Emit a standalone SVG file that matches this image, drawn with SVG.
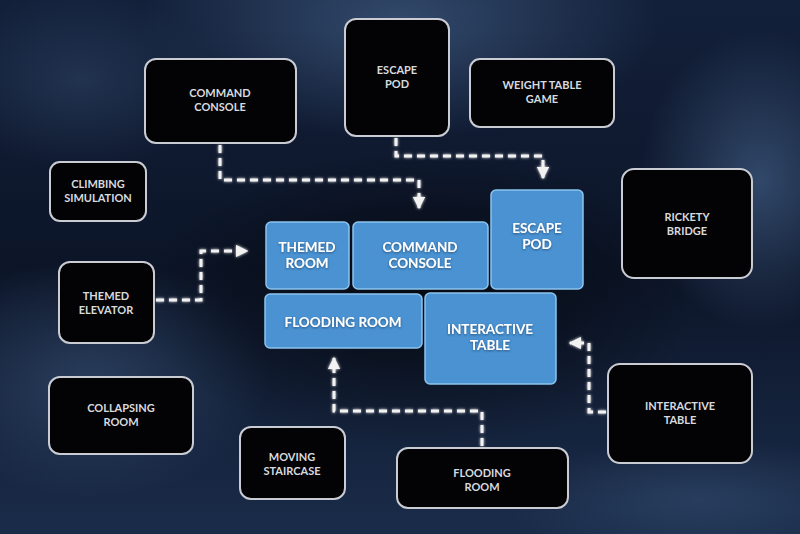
<svg xmlns="http://www.w3.org/2000/svg" width="800" height="534" viewBox="0 0 800 534">
<defs>
<linearGradient id="bg" x1="0" y1="0" x2="0" y2="1">
<stop offset="0" stop-color="#13203a"/>
<stop offset="0.5" stop-color="#0c1528"/>
<stop offset="1" stop-color="#1a2c4a"/>
</linearGradient>
<radialGradient id="g1" cx="0.5" cy="0.5" r="0.5">
<stop offset="0" stop-color="#3a5478" stop-opacity="0.8"/>
<stop offset="1" stop-color="#3a5478" stop-opacity="0"/>
</radialGradient>
<radialGradient id="g2" cx="0.5" cy="0.5" r="0.5">
<stop offset="0" stop-color="#000000" stop-opacity="0.6"/>
<stop offset="1" stop-color="#000000" stop-opacity="0"/>
</radialGradient>
<marker id="ah" viewBox="0 0 10 10" refX="9" refY="5" markerWidth="4.2" markerHeight="4.2" orient="auto" markerUnits="strokeWidth">
<path d="M0,0 L10,5 L0,10 Z" fill="#f2f2f2"/>
</marker>
<filter id="glow" x="-20%" y="-20%" width="140%" height="140%">
<feGaussianBlur stdDeviation="1.5" result="b"/>
<feMerge><feMergeNode in="b"/><feMergeNode in="SourceGraphic"/></feMerge>
</filter>
<filter id="ts" x="-10%" y="-30%" width="120%" height="160%">
<feDropShadow dx="0" dy="1" stdDeviation="1" flood-color="#1a3a60" flood-opacity="0.7"/>
</filter>
</defs>
<style>
.dark rect{fill:#030306;stroke:#c9ccd2;stroke-width:2}
.dark text{fill:#d8dade;font-family:Lato,"Open Sans",sans-serif;font-weight:700;font-size:11px;text-anchor:middle}
.blue rect{fill:#4a92d2;stroke:#8cc4ee;stroke-width:1.5}
.blue text{fill:#ffffff;font-family:Lato,"Open Sans",sans-serif;font-weight:700;font-size:13.5px;text-anchor:middle}
.con path{fill:none;stroke:#f2f2f2;stroke-width:3;stroke-dasharray:8 5}
</style>
<rect width="800" height="534" fill="url(#bg)"/>
<ellipse cx="400" cy="20" rx="260" ry="120" fill="url(#g1)"/>
<ellipse cx="760" cy="180" rx="120" ry="150" fill="url(#g1)"/>
<ellipse cx="90" cy="380" rx="180" ry="120" fill="url(#g1)" opacity="0.7"/>
<ellipse cx="700" cy="500" rx="200" ry="60" fill="url(#g1)" opacity="0.6"/>
<ellipse cx="80" cy="80" rx="140" ry="90" fill="url(#g1)" opacity="0.5"/>
<ellipse cx="420" cy="300" rx="280" ry="150" fill="url(#g2)"/>

<g class="con" filter="url(#glow)">
<path d="M220,145 V180 H419 V208" marker-end="url(#ah)"/>
<path d="M396,138 V156 H543 V178" marker-end="url(#ah)"/>
<path d="M156,300 H201 V251 H247" marker-end="url(#ah)"/>
<path d="M482,446 V411 H334 V358" marker-end="url(#ah)"/>
<path d="M606,412 H589 V343 H570" marker-end="url(#ah)"/>
</g>

<g id="n-command-console" class="dark"><rect x="145" y="59" width="151" height="84" rx="11"/><text x="220" y="97">COMMAND</text><text x="220" y="111">CONSOLE</text></g>
<g id="n-escape-pod" class="dark"><rect x="345" y="19" width="104" height="117" rx="11"/><text x="397" y="74">ESCAPE</text><text x="397" y="88">POD</text></g>
<g id="n-weight-table" class="dark"><rect x="470" y="59" width="144" height="68" rx="10"/><text x="542" y="89">WEIGHT TABLE</text><text x="542" y="103">GAME</text></g>
<g id="n-climbing" class="dark"><rect x="50" y="162" width="96" height="59" rx="10"/><text x="98" y="188">CLIMBING</text><text x="98" y="202">SIMULATION</text></g>
<g id="n-themed-elevator" class="dark"><rect x="59" y="262" width="95" height="81" rx="11"/><text x="106" y="300">THEMED</text><text x="106" y="314">ELEVATOR</text></g>
<g id="n-rickety" class="dark"><rect x="622" y="169" width="130" height="109" rx="12"/><text x="687" y="221">RICKETY</text><text x="687" y="235">BRIDGE</text></g>
<g id="n-interactive-table" class="dark"><rect x="608" y="364" width="144" height="99" rx="12"/><text x="680" y="410">INTERACTIVE</text><text x="680" y="424">TABLE</text></g>
<g id="n-collapsing" class="dark"><rect x="49" y="377" width="144" height="77" rx="11"/><text x="121" y="412">COLLAPSING</text><text x="121" y="426">ROOM</text></g>
<g id="n-moving" class="dark"><rect x="240" y="427" width="105" height="72" rx="11"/><text x="292" y="461">MOVING</text><text x="292" y="475">STAIRCASE</text></g>
<g id="n-flooding" class="dark"><rect x="397" y="448" width="171" height="60" rx="11"/><text x="482" y="477">FLOODING</text><text x="482" y="491">ROOM</text></g>

<g id="b-themed-room" class="blue"><rect x="266" y="222" width="83" height="67" rx="5"/><text x="307" y="252" filter="url(#ts)">THEMED</text><text x="307" y="268" filter="url(#ts)">ROOM</text></g>
<g id="b-command-console" class="blue"><rect x="353" y="222" width="135" height="67" rx="5"/><text x="420" y="252" filter="url(#ts)">COMMAND</text><text x="420" y="268" filter="url(#ts)">CONSOLE</text></g>
<g id="b-escape-pod" class="blue"><rect x="491" y="190" width="92" height="99" rx="5"/><text x="537" y="233" filter="url(#ts)">ESCAPE</text><text x="537" y="249" filter="url(#ts)">POD</text></g>
<g id="b-flooding-room" class="blue"><rect x="265" y="294" width="157" height="54" rx="5"/><text x="343" y="327" filter="url(#ts)">FLOODING ROOM</text></g>
<g id="b-interactive-table" class="blue"><rect x="425" y="293" width="131" height="91" rx="5"/><text x="490" y="334" filter="url(#ts)">INTERACTIVE</text><text x="490" y="350" filter="url(#ts)">TABLE</text></g>
</svg>
